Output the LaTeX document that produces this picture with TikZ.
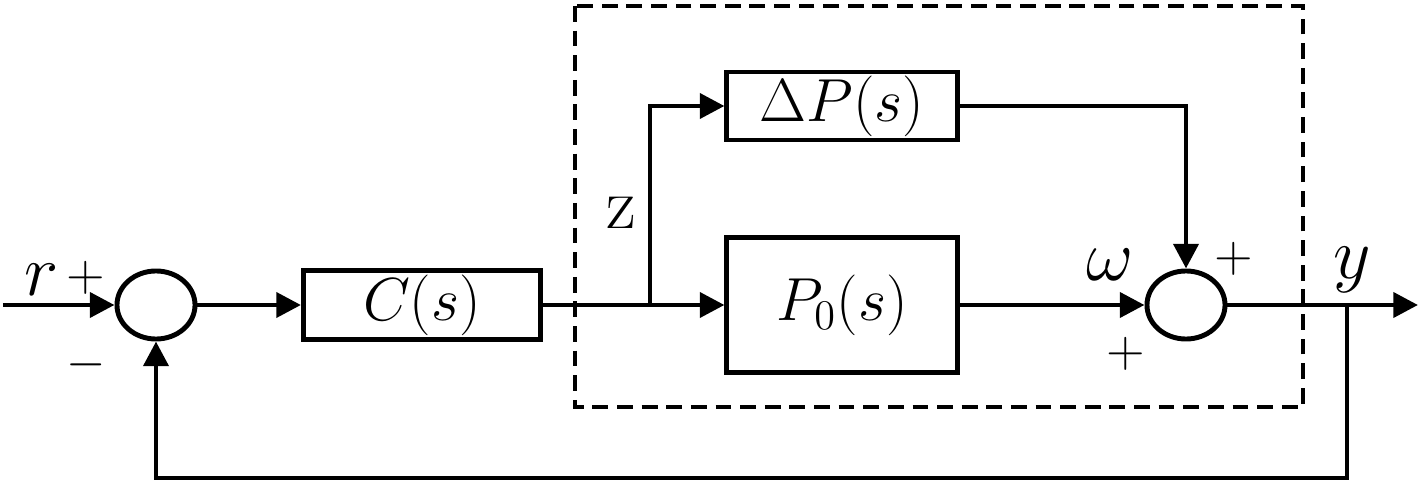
\documentclass[tikz,border=0pt]{standalone}
\usetikzlibrary{arrows.meta,shapes.geometric}
\begin{document}
\begin{tikzpicture}[x=0.01cm,y=-0.01cm,>={Triangle[length=7pt,width=7pt]},
  line width=1.4pt,
  blk/.style={draw,inner sep=0pt,font=\LARGE},
  sumnode/.style={draw,ellipse,minimum width=0.78cm,minimum height=0.68cm,inner sep=0pt},
  sgn/.style={font=\Large},
  lbl/.style={font=\huge}]
  \useasboundingbox (0,0) rectangle (1418,485);
  % blocks and summing points
  \node[sumnode] (s1) at (156,305) {};
  \node[blk,minimum width=2.37cm,minimum height=0.69cm] (c) at (422,305) {$C(s)$};
  \node[blk,minimum width=2.3cm,minimum height=0.68cm] (dp) at (842,106) {$\Delta P(s)$};
  \node[blk,minimum width=2.3cm,minimum height=1.34cm] (p0) at (842,305) {$P_0(s)$};
  \node[sumnode] (s2) at (1186,305) {};
  \coordinate (in) at (3,305);
  \coordinate (br) at (650,305);
  \coordinate (tap) at (1347,305);
  \coordinate (out) at (1418,305);
  % signals
  \draw[->] (in) -- (s1);
  \draw[->] (s1) -- (c);
  \draw[->] (c) -- (p0);
  \draw[->] (br) |- (dp);
  \draw[->] (p0) -- (s2);
  \draw[->] (dp) -| (s2);
  \draw[->] (s2) -- (out);
  \draw[->] (tap) -- ++(0,173) -| (s1);
  % uncertain plant
  \draw[dash pattern=on 4.5pt off 2.5pt] (575,6) rectangle (1303,407);
  % labels
  \node[lbl] (rlab) at (42,280) {$r$};
  \node[sgn] (rplus) at (86,278) {$+$};
  \node[sgn] (rminus) at (86,365) {$-$};
  \node[lbl] (zlab) at (621,213) {z};
  \node[lbl] (wlab) at (1110,265) {$\omega$};
  \node[sgn] (wplus) at (1126,354) {$+$};
  \node[sgn] (dplus) at (1234,259) {$+$};
  \node[lbl] (ylab) at (1352,270) {$y$};
\end{tikzpicture}
\end{document}
